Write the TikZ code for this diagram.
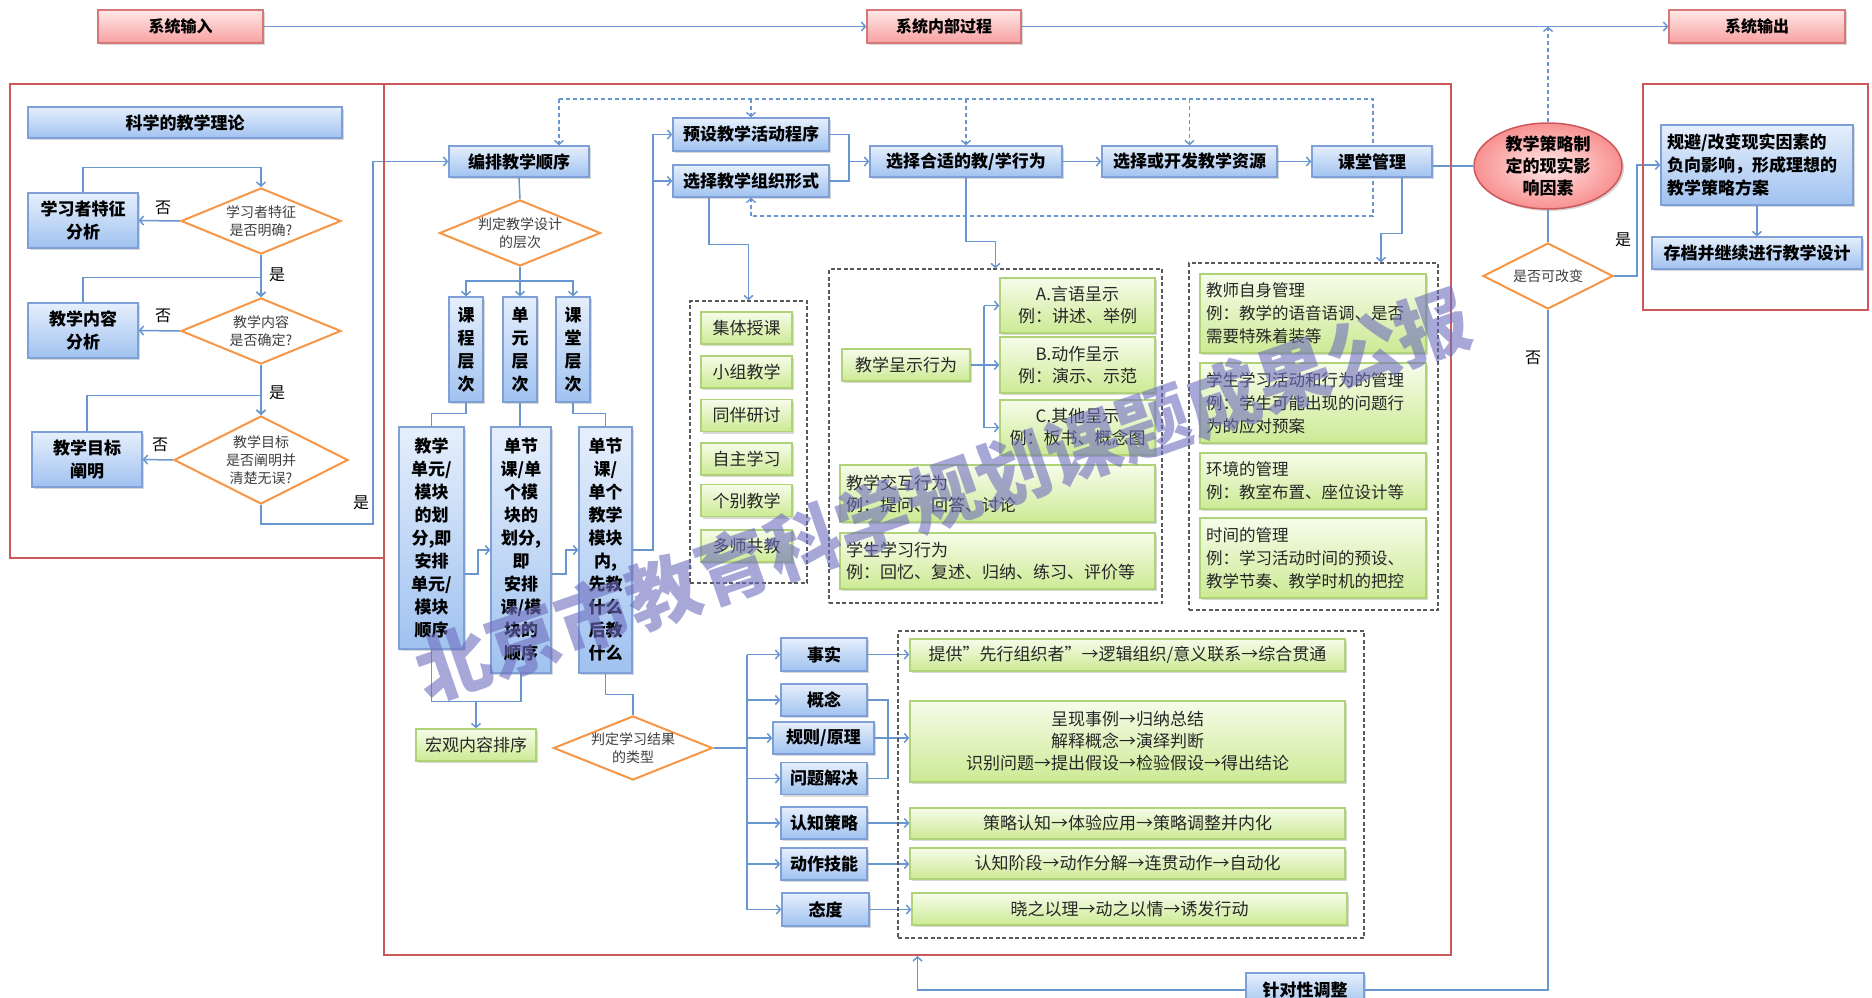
\documentclass[tikz,border=0pt]{standalone}
\usepackage{fontspec}
\setmainfont{Noto Sans CJK SC}
\usetikzlibrary{arrows.meta,shapes.geometric,shadows,calc}
\pgfdeclarelayer{bottom}
\pgfdeclarelayer{bg}
\pgfsetlayers{bottom,bg,main}
\definecolor{connc}{RGB}{104,150,208}
\definecolor{bluebd}{RGB}{126,160,214}
\definecolor{bluetop}{RGB}{230,239,252}
\definecolor{bluebot}{RGB}{160,194,240}
\definecolor{greenbd}{RGB}{176,210,120}
\definecolor{greentop}{RGB}{246,252,234}
\definecolor{greenbot}{RGB}{204,234,148}
\definecolor{pinkbd}{RGB}{214,120,120}
\definecolor{pinktop}{RGB}{255,232,232}
\definecolor{pinkbot}{RGB}{248,160,160}
\definecolor{diaorange}{RGB}{247,150,70}
\definecolor{framered}{RGB}{204,88,90}
\definecolor{wmcol}{RGB}{110,110,190}
\tikzset{
  boxbase/.style={draw, line width=1.3pt, inner sep=2pt, align=center,
    drop shadow={shadow xshift=2pt, shadow yshift=-2pt, opacity=0.3}},
  bluebox/.style={boxbase, draw=bluebd, top color=bluetop, bottom color=bluebot,
    font=\fontsize{17}{23}\selectfont\bfseries},
  greenbox/.style={boxbase, draw=greenbd, top color=greentop, bottom color=greenbot,
    text=black!85, font=\fontsize{17}{22}\selectfont},
  pinkbox/.style={boxbase, draw=pinkbd, top color=pinktop, bottom color=pinkbot,
    font=\fontsize{16}{20}\selectfont\bfseries},
  dia/.style={diamond, draw=diaorange, line width=2pt, fill=white, inner sep=0pt},
  diatext/.style={font=\fontsize{14}{18}\selectfont, text=black!75, align=center},
  conn/.style={draw=connc, line width=1.5pt},
  arr/.style={conn, -{Straight Barb[length=4pt,width=9pt]}},
  dconn/.style={draw=connc, line width=1.4pt, dash pattern=on 4pt off 3pt},
  group/.style={draw=black!65, line width=1.3pt, dash pattern=on 4pt off 2.5pt},
  redframe/.style={draw=framered, line width=2pt},
  lab/.style={font=\fontsize{16}{20}\selectfont},
  lefttext/.style={align=left, inner xsep=6pt},
}
\begin{document}
\begin{tikzpicture}[x=1pt,y=-1pt]
\useasboundingbox (0,0) rectangle (1872,998);
\begin{pgfonlayer}{bottom}
\fill[white] (0,0) rectangle (1872,998);
\end{pgfonlayer}

% frames
\node[redframe, minimum width=374, minimum height=474] (frameL) at (197,321) {};
\node[redframe, minimum width=1067, minimum height=871] (frameM) at (917.5,519.5) {};
\node[redframe, minimum width=225, minimum height=226] (frameR) at (1755.5,197) {};

% top row
\node[pinkbox, minimum width=165, minimum height=33] (sysin) at (180.5,26.5) {系统输入};
\node[pinkbox, minimum width=154, minimum height=33] (sysproc) at (944,26.5) {系统内部过程};
\node[pinkbox, minimum width=176, minimum height=33] (sysout) at (1757,26.5) {系统输出};

% left part
\node[bluebox, minimum width=314, minimum height=31] (theory) at (185,122.5) {科学的教学理论};
\node[bluebox, minimum width=110, minimum height=55] (la) at (83,220.5) {学习者特征\\分析};
\node[dia, minimum width=160, minimum height=66] (d1) at (261,221) {};
\node[diatext] (d1t) at (d1) {学习者特征\\是否明确?};
\node[bluebox, minimum width=110, minimum height=55] (cont) at (83,330.5) {教学内容\\分析};
\node[dia, minimum width=160, minimum height=66] (d2) at (261,331) {};
\node[diatext] (d2t) at (d2) {教学内容\\是否确定?};
\node[bluebox, minimum width=110, minimum height=55] (goal) at (87,459.5) {教学目标\\阐明};
\node[dia, minimum width=174, minimum height=88] (d3) at (261,460) {};
\node[diatext] (d3t) at (d3) {教学目标\\是否阐明并\\清楚无误?};
\node[lab] (no1) at (163,208) {否};
\node[lab] (no2) at (163,316) {否};
\node[lab] (no3) at (160,445) {否};
\node[lab] (yes1) at (277,275) {是};
\node[lab] (yes2) at (277,393) {是};
\node[lab] (yes3) at (361,503) {是};

% middle part: sequence
\node[bluebox, minimum width=140, minimum height=31] (order) at (519,161.5) {编排教学顺序};
\node[dia, minimum width=161, minimum height=66] (dlevel) at (520,233) {};
\node[diatext] (dlevelt) at (dlevel) {判定教学设计\\的层次};
\node[bluebox, minimum width=34, minimum height=105, inner sep=0pt] (lv1) at (466,349.5) {课\\程\\层\\次};
\node[bluebox, minimum width=34, minimum height=105, inner sep=0pt] (lv2) at (520,349.5) {单\\元\\层\\次};
\node[bluebox, minimum width=34, minimum height=105, inner sep=0pt] (lv3) at (573,349.5) {课\\堂\\层\\次};
\node[bluebox, minimum width=65, minimum height=222, inner sep=0pt] (bA) at (431.5,538) {教学\\单元/\\模块\\的划\\分,即\\安排\\单元/\\模块\\顺序};
\node[bluebox, minimum width=60, minimum height=246, inner sep=0pt] (bB) at (521,550) {单节\\课/单\\个模\\块的\\划分,\\即\\安排\\课/模\\块的\\顺序};
\node[bluebox, minimum width=53, minimum height=246, inner sep=0pt] (bC) at (605.5,550) {单节\\课/\\单个\\教学\\模块\\内,\\先教\\什么\\后教\\什么};
\node[greenbox, minimum width=120, minimum height=32] (macro) at (476,745) {宏观内容排序};
\node[dia, minimum width=159, minimum height=64] (dres) at (633,748) {};
\node[diatext] (drest) at (dres) {判定学习结果\\的类型};

% learning outcome types
\node[bluebox, minimum width=86, minimum height=33] (fact) at (824,654.5) {事实};
\node[bluebox, minimum width=86, minimum height=32] (concept) at (824,700) {概念};
\node[bluebox, minimum width=101, minimum height=32] (rule) at (823.5,738) {规则/原理};
\node[bluebox, minimum width=86, minimum height=32] (prob) at (824,778.5) {问题解决};
\node[bluebox, minimum width=86, minimum height=32] (cog) at (824,823) {认知策略};
\node[bluebox, minimum width=86, minimum height=32] (motor) at (824,864) {动作技能};
\node[bluebox, minimum width=87, minimum height=33] (att) at (825.5,909.5) {态度};
\node[group, minimum width=466, minimum height=307] (resbox) at (1131,784.5) {};
\node[greenbox, minimum width=435, minimum height=32] (r1) at (1127.5,655) {提供"先行组织者"→逻辑组织/意义联系→综合贯通};
\node[greenbox, minimum width=435, minimum height=81] (r2) at (1127.5,741.5) {呈现事例→归纳总结\\解释概念→演绎判断\\识别问题→提出假设→检验假设→得出结论};
\node[greenbox, minimum width=435, minimum height=31] (r3) at (1127.5,823.5) {策略认知→体验应用→策略调整并内化};
\node[greenbox, minimum width=435, minimum height=31] (r4) at (1127.5,863.5) {认知阶段→动作分解→连贯动作→自动化};
\node[greenbox, minimum width=435, minimum height=32] (r5) at (1129.5,909) {晓之以理→动之以情→诱发行动};

% strategy chain
\node[bluebox, minimum width=156, minimum height=33] (preset) at (751,134.5) {预设教学活动程序};
\node[bluebox, minimum width=156, minimum height=32] (orgform) at (751,181) {选择教学组织形式};
\node[bluebox, minimum width=192, minimum height=31] (behav) at (966,161.5) {选择合适的教/学行为};
\node[bluebox, minimum width=175, minimum height=31] (resour) at (1189.5,161.5) {选择或开发教学资源};
\node[bluebox, minimum width=120, minimum height=31] (mgmt) at (1372,161.5) {课堂管理};

% organisation forms
\node[group, minimum width=117, minimum height=282] (forms) at (748.5,442) {};
\node[greenbox, minimum width=91, minimum height=32] (f1) at (746.5,328) {集体授课};
\node[greenbox, minimum width=91, minimum height=32] (f2) at (746.5,372) {小组教学};
\node[greenbox, minimum width=91, minimum height=32] (f3) at (746.5,415.5) {同伴研讨};
\node[greenbox, minimum width=91, minimum height=32] (f4) at (746.5,459) {自主学习};
\node[greenbox, minimum width=91, minimum height=32] (f5) at (746.5,500.5) {个别教学};
\node[greenbox, minimum width=91, minimum height=32] (f6) at (746.5,546) {多师共教};

% teaching behaviours
\node[group, minimum width=333, minimum height=334] (behavbox) at (995.5,436) {};
\node[greenbox, minimum width=128, minimum height=32] (present) at (906,365) {教学呈示行为};
\node[greenbox, minimum width=155, minimum height=55] (pA) at (1077.5,305.5) {A.言语呈示\\例：讲述、举例};
\node[greenbox, minimum width=155, minimum height=56] (pB) at (1077.5,365) {B.动作呈示\\例：演示、示范};
\node[greenbox, minimum width=155, minimum height=55] (pC) at (1077.5,427.5) {C.其他呈示\\例：板书、概念图};
\node[greenbox, lefttext, text width=303pt, minimum height=57] (inter) at (997.5,493.5) {教学交互行为\\例：提问、回答、讨论};
\node[greenbox, lefttext, text width=303pt, minimum height=56] (stud) at (997.5,561) {学生学习行为\\例：回忆、复述、归纳、练习、评价等};

% classroom management
\node[group, minimum width=249, minimum height=347] (mgmtbox) at (1313.5,436.5) {};
\node[greenbox, lefttext, text width=214pt, minimum height=79, font=\fontsize{16.5}{23}\selectfont] (m1) at (1313,313.5) {教师自身管理\\例：教学的语音语调、是否\\需要特殊着装等};
\node[greenbox, lefttext, text width=214pt, minimum height=80, font=\fontsize{16.5}{23}\selectfont] (m2) at (1313,403) {学生学习活动和行为的管理\\例：学生可能出现的问题行\\为的应对预案};
\node[greenbox, lefttext, text width=214pt, minimum height=56, font=\fontsize{16.5}{23}\selectfont] (m3) at (1313,481) {环境的管理\\例：教室布置、座位设计等};
\node[greenbox, lefttext, text width=214pt, minimum height=80, font=\fontsize{16.5}{23}\selectfont] (m4) at (1313,558) {时间的管理\\例：学习活动时间的预设、\\教学节奏、教学时机的把控};

% right part
\node[ellipse, draw=framered, line width=1.5pt, inner color=pinktop, outer color=pinkbot!90!red,
  minimum width=148, minimum height=86, inner sep=0pt,
  drop shadow={shadow xshift=2pt, shadow yshift=-2pt, opacity=0.3}] (factors) at (1548,166) {};
\node[font=\fontsize{17}{22}\selectfont\bfseries, align=center] (factorst) at (factors) {教学策略制\\定的现实影\\响因素};
\node[dia, minimum width=130, minimum height=66] (dchange) at (1548,276) {};
\node[diatext] (dchanget) at (dchange) {是否可改变};
\node[bluebox, lefttext, text width=180pt, minimum height=80, inner xsep=6pt, font=\fontsize{17}{23}\selectfont\bfseries] (avoid) at (1757,165) {规避/改变现实因素的\\负向影响，形成理想的\\教学策略方案};
\node[bluebox, minimum width=210, minimum height=32] (archive) at (1757,253) {存档并继续进行教学设计};
\node[bluebox, minimum width=118, minimum height=34] (adjust) at (1305,990) {针对性调整};
\node[lab] (yes4) at (1623,240) {是};
\node[lab] (no4) at (1533,358) {否};

% connectors
\begin{pgfonlayer}{bg}
\draw[arr] (sysin.east) -- (sysproc.west);
\draw[arr] (sysproc.east) -- (sysout.west);
\draw[dconn,arr,dash pattern=on 4pt off 3pt] (factors.north) -- (factors.north |- sysproc.east);

\draw[arr] (la.north) -- ++(0,-25) -| (d1.north);
\draw[arr] (d1.west) -- (la.east);
\draw[arr] (d1.south) -- (d2.north);
\draw[arr] (cont.north) -- ++(0,-25) -| (d2.north);
\draw[arr] (d2.west) -- (cont.east);
\draw[arr] (d2.south) -- (d3.north);
\draw[arr] (goal.north) -- ++(0,-36) -| (d3.north);
\draw[arr] (d3.west) -- (goal.east);
\draw[arr] (d3.south) |- (373,524) |- (order.west);

\coordinate (tl) at (0,99);
\coordinate (bl) at (0,216);
\coordinate (ordtop) at ([xshift=40]order.north);
\draw[dconn] (ordtop |- tl) -- (1373,99) -- (1373,216) -- (orgform.south |- bl);
\draw[dconn,-{Straight Barb[length=4pt,width=9pt]}] (ordtop |- tl) -- (ordtop);
\draw[dconn,-{Straight Barb[length=4pt,width=9pt]}] (preset.north |- tl) -- (preset.north);
\draw[dconn,-{Straight Barb[length=4pt,width=9pt]}] (behav.north |- tl) -- (behav.north);
\draw[dconn,-{Straight Barb[length=4pt,width=9pt]}] (resour.north |- tl) -- (resour.north);
\draw[dconn,-{Straight Barb[length=4pt,width=9pt]}] (orgform.south |- bl) -- (orgform.south);

\draw[conn] (order.south) -- (dlevel.north);
\coordinate (br) at (520,281);
\draw[conn] (dlevel.south) -- (br);
\draw[arr] (br) -| (lv1.north);
\draw[arr] (br) -| (lv3.north);
\draw[arr] (br) -- (lv2.north);
\draw[conn] (lv1.south) -- ++(0,11) -| (bA.north);
\draw[conn] (lv2.south) -- (lv2.south |- bB.north);
\draw[conn] (lv3.south) -- ++(0,11) -| (bC.north);
\coordinate (ab) at (0,574);
\coordinate (ab2) at (0,550);
\draw[arr] (bA.east |- ab) -| (478,550) -- (bB.west |- ab2);
\draw[arr] (bB.east |- ab) -| (566,550) -- (bC.west |- ab2);
\coordinate (vl) at (653,134.5);
\draw[arr] (bC.east |- ab2) -| (vl) -- (preset.west);
\draw[arr] (vl |- orgform.west) -- (orgform.west);
\draw[conn] (bA.south) -- ++(0,52) -| (bB.south);
\coordinate (mj) at (476,701);
\draw[arr] (mj) -- (macro.north);
\draw[conn] (bC.south) -- ++(0,21) -| (dres.north);
\coordinate (vr) at (747,748);
\draw[conn] (dres.east) -- (vr);
\draw[conn] (vr |- fact.west) -- (vr |- att.west);
\foreach \n in {fact,concept,rule,prob,cog,motor,att} \draw[arr] (vr |- \n.west) -- (\n.west);
\draw[arr] (fact.east) -- (fact.east -| r1.west);
\coordinate (cj) at (888,741);
\draw[conn] (concept.east) -| (cj);
\draw[conn] (prob.east) -| (cj);
\draw[arr] (rule.east) -- (rule.east -| r2.west);
\draw[arr] (cog.east) -- (cog.east -| r3.west);
\draw[arr] (motor.east) -- (motor.east -| r4.west);
\draw[arr] (att.east) -- (att.east -| r5.west);

\draw[conn] (preset.east) -| (849,161.5);
\draw[conn] (orgform.east) -| (849,161.5);
\coordinate (pbj) at (849,161.5);
\draw[arr] (pbj) -- (behav.west);
\draw[arr] (behav.east) -- (resour.west);
\draw[arr] (resour.east) -- (mgmt.west);

\coordinate (of) at ([xshift=-42]orgform.south);
\draw[arr] (of) -- ++(0,47) -| (forms.north);
\draw[arr] (behav.south) -- ++(0,64) -| (behavbox.north);
\coordinate (pj) at (984,365);
\draw[conn] (present.east) -- (pj);
\draw[conn] (pj |- pA.west) -- (pj |- pC.west);
\foreach \n in {pA,pB,pC} \draw[arr] (pj |- \n.west) -- (\n.west);
\coordinate (mg) at ([xshift=30]mgmt.south);
\coordinate (mgb) at ([xshift=67.5]mgmtbox.north);
\draw[arr] (mg) -- ++(0,56) -| (mgb);

\draw[conn] (mgmt.east |- factors.west) -- (factors.west);
\draw[conn] (factors.south) -- (dchange.north);
\coordinate (yj) at (1637,165);
\draw[arr] (dchange.east) -| (yj) -- (avoid.west);
\draw[arr] (avoid.south) -- (archive.north);
\draw[conn] (dchange.south) |- (adjust.east);
\draw[arr] (adjust.west) -| (frameM.south);
\end{pgfonlayer}

% watermark
\node[rotate=19, text=wmcol, opacity=0.6, font=\fontsize{74}{74}\selectfont\bfseries] (wm) at (943,495) {北京市教育科学规划课题成果公报};
\end{tikzpicture}
\end{document}
